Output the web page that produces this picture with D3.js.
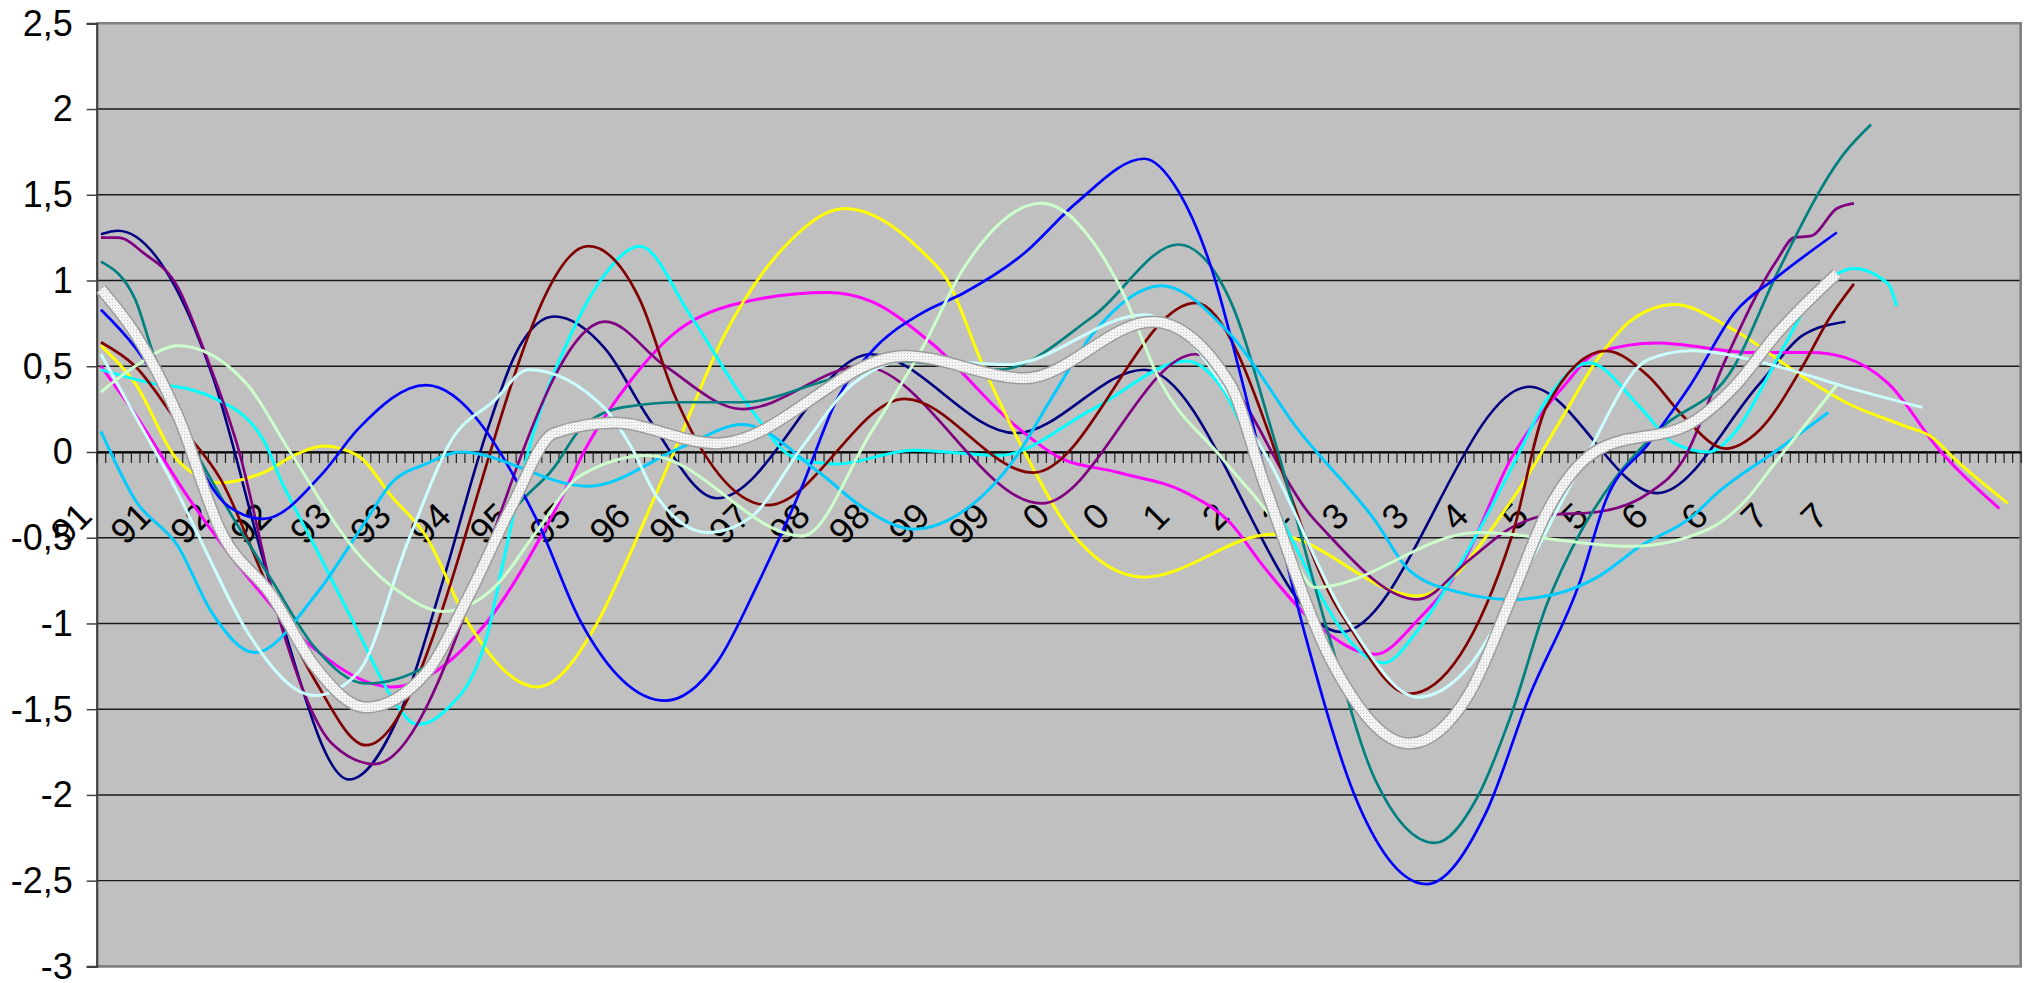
<!DOCTYPE html>
<html>
<head>
<meta charset="utf-8">
<script src="https://cdn.jsdelivr.net/npm/d3@7"></script>
<style>
    body { margin: 0; background: #fff; }
    #chart text { font-family: "Liberation Sans", Arial, sans-serif; }
</style>
</head>
<body>
<div id="chart" style="width:2033px;height:983px"></div>
<script>
// monthly categories, Jan 1991 onwards; a label every 7th month
const categoryCount = 225
const labelStep = 7
const tickLabels = ["91", "91", "92", "92", "93", "93", "94", "95", "95", "96", "96", "97", "98", "98", "99", "99",
    "0", "0", "1", "2", "2", "3", "3", "4", "5", "5", "6", "6", "7", "7"]
const yTicks = [-3, -2.5, -2, -1.5, -1, -0.5, 0, 0.5, 1, 1.5, 2, 2.5]

// series values as [month index, value]
const navy = [[0, 1.27], [2, 1.29], [10, 0.83], [13, 0.45], [20, -0.8], [29, -1.91], [35, -1.52], [40, -0.75], [45, 0.1],
    [49, 0.62], [53, 0.79], [59, 0.6], [64, 0.2], [72, -0.27], [90, 0.57], [107, 0.11], [122, 0.48], [145, -1.05],
    [167, 0.38], [182, -0.24], [194, 0.4], [199, 0.68], [204, 0.76]]
const magenta = [[0, 0.5], [4, 0.22], [10, -0.25], [17, -0.72], [25, -1.15], [34, -1.37], [45, -1.0], [53, -0.35],
    [57, 0.05], [62, 0.42], [67, 0.69], [74, 0.86], [85, 0.93], [90, 0.88], [97, 0.64], [107, 0.15], [112, -0.03],
    [119, -0.12], [127, -0.24], [132, -0.41], [136, -0.67], [142, -1.0], [149, -1.18], [154, -0.98], [159, -0.67],
    [165, -0.03], [171, 0.38], [175, 0.58], [182, 0.635], [193, 0.58], [200, 0.58], [204, 0.55], [209, 0.4],
    [215, 0.01], [222, -0.33]]
const yellow = [[0, 0.62], [4, 0.4], [9, -0.05], [14, -0.18], [19, -0.12], [23, -0.01], [26, 0.035], [30, -0.02],
    [34, -0.26], [38, -0.49], [43, -1.0], [51, -1.37], [58, -1.0], [61, -0.69], [67, 0.0], [73, 0.69], [80, 1.2],
    [87, 1.42], [96, 1.17], [99, 1.0], [103, 0.52], [108, 0.0], [114, -0.5], [122, -0.73], [137, -0.48],
    [154, -0.84], [165, -0.28], [171, 0.21], [175, 0.54], [179, 0.77], [184, 0.86], [191, 0.71], [199, 0.44],
    [204, 0.29], [211, 0.15], [214, 0.09], [217, -0.05], [223, -0.3]]
const cyan = [[0, 0.48], [6, 0.4], [10, 0.37], [13, 0.32], [19, 0.07], [21, -0.16], [25, -0.55], [30, -1.04],
    [34, -1.43], [37, -1.59], [40, -1.52], [45, -1.1], [47, -0.65], [50, 0.01], [55, 0.69], [59, 1.04], [63, 1.2],
    [69, 0.79], [76, 0.25], [81, -0.03], [86, -0.07], [95, 0.01], [105, -0.02], [116, 0.25], [127, 0.53], [131, 0.38],
    [137, -0.28], [150, -1.23], [154, -1.04], [159, -0.65], [165, -0.09], [169, 0.3], [174, 0.52], [180, 0.26],
    [184, 0.05], [188, 0.0], [191, 0.11], [196, 0.54], [200, 0.89], [205, 1.07], [209, 0.98], [210, 0.85]]
const purple = [[0, 1.25], [2, 1.25], [5, 1.16], [9, 0.96], [12, 0.6], [16, 0.03], [21, -1.0], [27, -1.7], [32, -1.82],
    [59, 0.76], [66, 0.5], [75, 0.25], [89, 0.5], [110, -0.3], [128, 0.57], [142, -0.4], [154, -0.86], [160, -0.63],
    [165, -0.44], [169, -0.37], [175, -0.35], [181, -0.24], [185, -0.05], [190, 0.54], [196, 1.12], [198, 1.25],
    [200, 1.26], [203, 1.42], [205, 1.45]]
const maroon = [[0, 0.64], [4, 0.5], [9, 0.17], [14, -0.16], [20, -0.84], [25, -1.33], [31, -1.71], [57, 1.2], [63, 0.89],
    [67, 0.34], [78, -0.31], [94, 0.31], [109, -0.12], [128, 0.87], [145, -0.94], [153, -1.41], [165, -0.49],
    [169, 0.26], [176, 0.59], [181, 0.44], [185, 0.21], [190, 0.02], [194, 0.13], [199, 0.5], [202, 0.77], [205, 0.98]]
const teal = [[0, 1.11], [4, 0.89], [6, 0.59], [10, 0.11], [14, -0.26], [20, -0.75], [25, -1.14], [31, -1.35],
    [38, -1.25], [43, -0.84], [48, -0.36], [53, -0.09], [56, 0.13], [61, 0.26], [68, 0.29], [75, 0.29], [85, 0.42],
    [93, 0.53], [105, 0.48], [116, 0.79], [126, 1.21], [132, 0.89], [137, 0.11], [144, -1.14], [149, -1.91],
    [156, -2.28], [161, -2.01], [165, -1.52], [169, -0.9], [173, -0.47], [177, -0.16], [182, 0.12], [191, 0.5],
    [196, 1.04], [204, 1.75], [207, 1.91]]
const blue = [[0, 0.83], [4, 0.61], [8, 0.3], [10, 0.11], [12, -0.12], [15, -0.32], [19, -0.39], [26, -0.12], [30, 0.13],
    [38, 0.39], [51, -0.4], [56, -0.98], [66, -1.45], [72, -1.23], [77, -0.75], [82, -0.2], [86, 0.3], [90, 0.58],
    [96, 0.81], [101, 0.93], [108, 1.16], [114, 1.45], [122, 1.71], [126, 1.52], [130, 1.05], [133, 0.5],
    [136, -0.1], [141, -1.1], [147, -2.05], [155, -2.52], [162, -2.1], [167, -1.43], [173, -0.75], [176, -0.28],
    [181, 0.05], [186, 0.4], [191, 0.81], [196, 1.02], [203, 1.28]]
const skyBlue = [[0, 0.12], [4, -0.28], [9, -0.55], [13, -0.94], [18, -1.17], [25, -0.84], [31, -0.4], [34, -0.18],
    [38, -0.07], [42, 0.0], [57, -0.2], [68, 0.03], [75, 0.16], [84, -0.12], [89, -0.32], [95, -0.45], [101, -0.34],
    [107, -0.03], [111, 0.3], [116, 0.69], [124, 0.97], [132, 0.69], [140, 0.13], [149, -0.4], [153, -0.69],
    [159, -0.82], [165, -0.86], [170, -0.83], [175, -0.73], [180, -0.55], [186, -0.38], [189, -0.24], [196, 0.01],
    [202, 0.23]]
const lightTurquoise = [[0, 0.57], [4, 0.21], [9, -0.24], [12, -0.55], [17, -1.04], [25, -1.42], [30, -1.29],
    [36, -0.51], [41, 0.07], [46, 0.3], [50, 0.48], [59, 0.25], [62, 0.03], [65, -0.26], [71, -0.47], [76, -0.38],
    [82, 0.03], [88, 0.4], [95, 0.54], [106, 0.51], [122, 0.8], [136, 0.0], [146, -1.0], [154, -1.43], [160, -1.25],
    [165, -0.84], [173, -0.09], [181, 0.54], [186, 0.59], [196, 0.5], [204, 0.38], [213, 0.26]]
const lightGreen = [[0, 0.35], [4, 0.5], [9, 0.62], [17, 0.4], [22, 0.01], [30, -0.59], [35, -0.82], [40, -0.93],
    [46, -0.79], [51, -0.46], [56, -0.14], [64, -0.02], [82, -0.49], [90, 0.11], [96, 0.6], [101, 1.08], [110, 1.45],
    [119, 0.98], [124, 0.4], [131, -0.03], [138, -0.46], [142, -0.79], [161, -0.47], [179, -0.55], [188, -0.45],
    [192, -0.3], [196, -0.05], [203, 0.39]]
const average = [[0, 0.95], [4, 0.69], [9, 0.21], [14, -0.46], [20, -0.84], [25, -1.25], [31, -1.49], [38, -1.29],
    [43, -0.84], [48, -0.32], [53, 0.11], [60, 0.17], [72, 0.05], [94, 0.56], [108, 0.43], [123, 0.76], [132, 0.4],
    [136, -0.18], [144, -1.23], [153, -1.7], [160, -1.41], [165, -0.84], [169, -0.36], [175, 0.01], [186, 0.17],
    [191, 0.38], [196, 0.69], [203, 1.04]]

const seriesList = [navy, magenta, yellow, cyan, purple, maroon, teal, blue, skyBlue, lightTurquoise, lightGreen]
const seriesColors = ["#000080", "#FF00FF", "#FFFF00", "#00FFFF", "#800080", "#800000", "#008080", "#0000FF",
    "#00CCFF", "#CCFFFF", "#CCFFCC"]
const seriesWidths = [2.6, 3, 3, 3, 2.7, 2.7, 2.7, 2.7, 3, 3, 3]

class LineChart {
    constructor(parentElement) {
        this.parentElement = parentElement
        this.initVis()
    }

    initVis() {
        let vis = this

        vis.margin = {top: 23.3, right: 12.3, bottom: 16.6, left: 96.7}
        vis.width = 2033 - vis.margin.left - vis.margin.right
        vis.height = 983 - vis.margin.top - vis.margin.bottom

        vis.root = d3.select("#" + vis.parentElement).append("svg")
            .attr("width", 2033)
            .attr("height", 983)
        vis.svg = vis.root.append("g")
            .attr("transform", `translate(${vis.margin.left}, ${vis.margin.top})`)

        // speckled pattern for the thick average line
        let pat = vis.root.append("defs").append("pattern")
            .attr("id", "dots")
            .attr("patternUnits", "userSpaceOnUse")
            .attr("width", 3).attr("height", 3)
        pat.append("rect").attr("width", 3).attr("height", 3).attr("fill", "#ffffff")
        pat.append("rect").attr("width", 1).attr("height", 1).attr("fill", "#a8a8a8")
        pat.append("rect").attr("x", 1).attr("y", 2).attr("width", 1).attr("height", 1).attr("fill", "#c4c4c4")

        vis.x = d3.scaleLinear().domain([-0.5, categoryCount - 0.5]).range([0, vis.width])
        vis.y = d3.scaleLinear().domain([-3, 2.5]).range([vis.height, 0])

        // plot area
        vis.svg.append("rect")
            .attr("width", vis.width)
            .attr("height", vis.height)
            .attr("fill", "#C0C0C0")

        // gridlines
        vis.svg.append("g").selectAll("line")
            .data(yTicks.filter(d => d > -3 && d < 2.5))
            .join("line")
            .attr("x1", 0).attr("x2", vis.width)
            .attr("y1", d => vis.y(d)).attr("y2", d => vis.y(d))
            .attr("stroke", "#1a1a1a")
            .attr("stroke-width", 1.4)

        // border (top, right, bottom)
        vis.svg.append("path")
            .attr("d", `M0,0H${vis.width}V${vis.height}H0`)
            .attr("fill", "none")
            .attr("stroke", "#808080")
            .attr("stroke-width", 2.6)

        // y axis
        vis.yAxis = d3.axisLeft(vis.y)
            .tickValues(yTicks)
            .tickSize(10)
            .tickPadding(14)
            .tickFormat(d => String(d).replace(".", ","))
        let yg = vis.svg.append("g").attr("class", "y-axis axis").call(vis.yAxis)
        yg.select(".domain").attr("stroke", "#404040").attr("stroke-width", 2.2)
        yg.selectAll(".tick line").attr("stroke", "#404040").attr("stroke-width", 1.5)
        yg.selectAll("text").attr("font-size", 36).attr("fill", "#000").attr("dy", "0.33em")
            .attr("font-family", "'Liberation Sans', Arial, sans-serif")

        // x axis on zero line, one tick per category boundary
        vis.xAxis = d3.axisBottom(vis.x)
            .tickValues(d3.range(-0.5, categoryCount, 1))
            .tickSize(11)
            .tickSizeOuter(0)
            .tickFormat("")
        let xg = vis.svg.append("g").attr("class", "x-axis axis")
            .attr("transform", `translate(0, ${vis.y(0)})`)
            .call(vis.xAxis)
        xg.select(".domain").attr("stroke", "#000").attr("stroke-width", 2)
        xg.selectAll(".tick line").attr("stroke", "#1e1e1e").attr("stroke-width", 1.2)

        // rotated category labels
        vis.svg.append("g").selectAll("text")
            .data(tickLabels)
            .join("text")
            .attr("transform", (d, i) => `translate(${vis.x(i * labelStep) - 7}, ${vis.y(0) + 66}) rotate(-45)`)
            .attr("text-anchor", "end")
            .attr("font-size", 36)
            .attr("fill", "#000")
            .text(d => d)

        vis.line = d3.line()
            .x(d => vis.x(d[0]))
            .y(d => vis.y(d[1]))
            .curve(d3.curveMonotoneX)

        vis.svg.append("g").selectAll("path")
            .data(seriesList)
            .join("path")
            .attr("d", d => vis.line(d))
            .attr("fill", "none")
            .attr("stroke", (d, i) => seriesColors[i])
            .attr("stroke-width", (d, i) => seriesWidths[i])
            .attr("stroke-linejoin", "round")

        // thick speckled average line on top
        vis.svg.append("path")
            .datum(average)
            .attr("d", vis.line)
            .attr("fill", "none")
            .attr("stroke", "#9c9c9c")
            .attr("stroke-width", 12.5)
        vis.svg.append("path")
            .datum(average)
            .attr("d", vis.line)
            .attr("fill", "none")
            .attr("stroke", "url(#dots)")
            .attr("stroke-width", 9.5)
    }
}

new LineChart("chart")
</script>
</body>
</html>
